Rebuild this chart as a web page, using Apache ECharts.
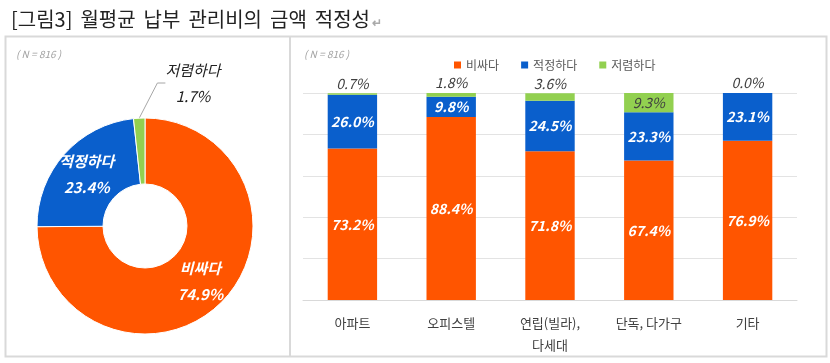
<!DOCTYPE html>
<html><head><meta charset="utf-8">
<script src="https://cdn.jsdelivr.net/npm/echarts@6/dist/echarts.min.js"></script>
<style>html,body{margin:0;padding:0;background:#fff}#c{width:830px;height:363px}</style>
</head><body><div id="c"></div>
<script>
const FONT = '"Noto Sans CJK KR", "Noto Sans", sans-serif';
const titleWords = ['[그림3]', '월평균', '납부', '관리비의', '금액', '적정성'];
const categories = ['아파트', '오피스텔', '연립(빌라),\n다세대', '단독, 다가구', '기타'];
const seriesNames = ['비싸다', '적정하다', '저렴하다'];
const expensive = [73.2, 88.4, 71.8, 67.4, 76.9];
const adequate = [26.0, 9.8, 24.5, 23.3, 23.1];
const cheap = [0.7, 1.8, 3.6, 9.3, 0.0];
const pieValues = [74.9, 23.4, 1.7];
const colors = ['#FF5500', '#0A5FCC', '#92D050'];
const yTicks = [0, 20, 40, 60, 80, 100];

const chart = echarts.init(document.getElementById('c'), null, {renderer: 'canvas'});
const whiteLbl = {show: true, color: '#fff', fontFamily: FONT, fontSize: 14, fontWeight: 'bold', fontStyle: 'italic',
  formatter: p => p.value.toFixed(1) + '%'};

chart.setOption({
  animation: false,
  title: {
    left: 5, top: 4,
    text: titleWords.map(w => '{t|' + w + '}').join(' ') + '{r|↵}',
    textStyle: {rich: {
      t: {fontFamily: FONT, fontSize: 20, color: '#222', fontWeight: 'normal', padding: [0, 2, 0, 1]},
      r: {fontFamily: FONT, fontSize: 12, color: '#aaa', padding: [7, 0, 0, 0]}
    }}
  },
  graphic: [
    {type: 'rect', shape: {x: 5.5, y: 36.5, width: 821, height: 320}, style: {fill: 'none', stroke: '#d9d9d9', lineWidth: 2}},
    {type: 'line', shape: {x1: 290, y1: 36, x2: 290, y2: 357}, style: {stroke: '#d9d9d9', lineWidth: 2}},
    {type: 'text', left: 16, top: 49, style: {text: '( N = 816 )', fill: '#a0a0a0', font: 'italic 10px ' + FONT}},
    {type: 'text', left: 304, top: 49, style: {text: '( N = 816 )', fill: '#a0a0a0', font: 'italic 10px ' + FONT}}
  ],
  legend: {
    data: seriesNames, left: 449, top: 54, itemWidth: 7, itemHeight: 7, itemGap: 22, icon: 'rect',
    textStyle: {fontFamily: FONT, fontSize: 12, color: '#595959'}, selectedMode: false
  },
  grid: {left: 303, right: 33, top: 93, bottom: 63},
  xAxis: {
    type: 'category', data: categories,
    axisLine: {lineStyle: {color: '#d9d9d9'}}, axisTick: {show: false},
    axisLabel: {fontFamily: FONT, fontSize: 13, color: '#404040', margin: 12, lineHeight: 22, interval: 0}
  },
  yAxis: {
    type: 'value', min: yTicks[0], max: yTicks[yTicks.length - 1], interval: 20,
    axisLabel: {show: false}, axisLine: {show: false}, axisTick: {show: false},
    splitLine: {lineStyle: {color: '#e3e3e3', width: 1}}
  },
  series: [
    {name: seriesNames[0], type: 'bar', stack: 's', data: expensive, barWidth: '50%', itemStyle: {color: colors[0]}, label: whiteLbl},
    {name: seriesNames[1], type: 'bar', stack: 's', data: adequate, itemStyle: {color: colors[1]}, label: whiteLbl},
    {name: seriesNames[2], type: 'bar', stack: 's', itemStyle: {color: colors[2]},
      data: cheap.map(v => v >= 5
        ? {value: v, label: {position: 'inside'}}
        : {value: v, label: {position: 'top', distance: 3}}),
      label: {show: true, color: '#404040', fontFamily: FONT, fontSize: 14, fontStyle: 'italic',
        formatter: p => p.value.toFixed(1) + '%'}},
    {
      name: 'pie', type: 'pie', center: [145, 226], radius: [42, 108], startAngle: 90, clockwise: true,
      avoidLabelOverlap: false,
      itemStyle: {borderColor: '#fff', borderWidth: 1},
      label: {show: true, position: 'inside', color: '#fff', fontFamily: FONT, fontSize: 15, fontWeight: 'bold',
        fontStyle: 'italic', lineHeight: 26, formatter: p => p.name + '\n' + p.value.toFixed(1) + '%'},
      labelLayout: function (p) {
        if (p.dataIndex === 2) return {x: 193, y: 83, align: 'center', verticalAlign: 'middle'};
      },
      data: pieValues.map((v, i) => {
        const d = {name: seriesNames[i], value: v, itemStyle: {color: colors[i]}};
        if (i === 2) {
          d.label = {position: 'outside', color: '#222', fontWeight: 'normal'};
          d.labelLine = {show: true, length: 12, length2: 8, lineStyle: {color: '#a6a6a6', width: 1}};
        } else {
          d.labelLine = {show: false};
        }
        return d;
      })
    }
  ]
});
</script></body></html>
